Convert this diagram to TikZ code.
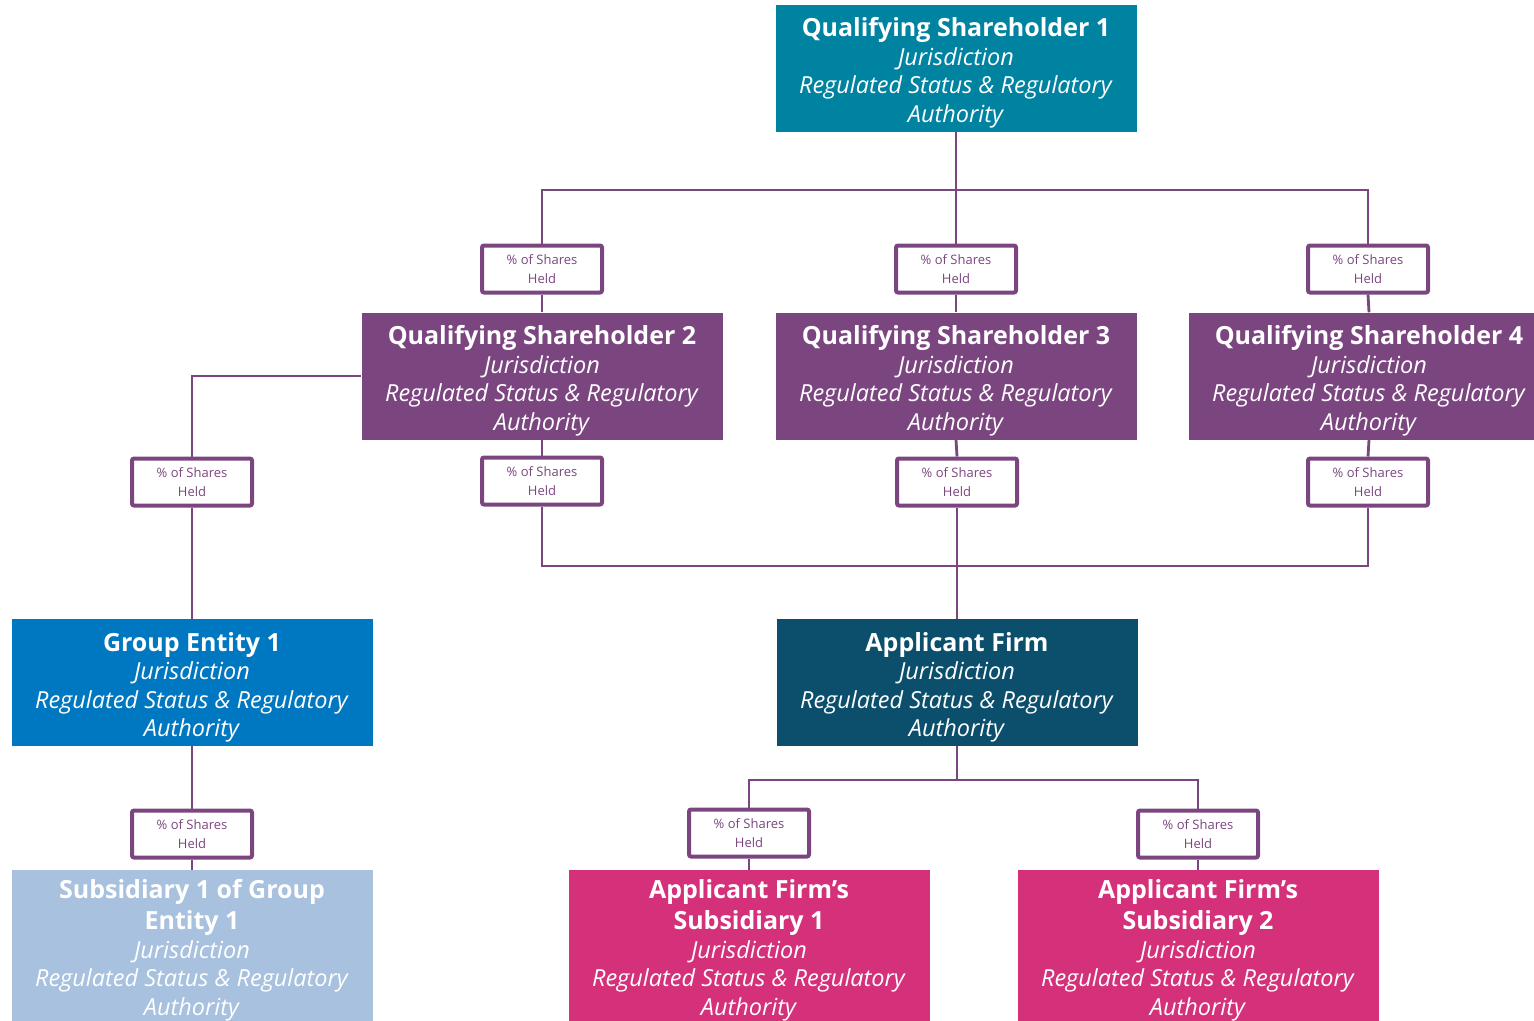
\documentclass[tikz,border=0pt]{standalone}
\usepackage{fontspec}
\setmainfont{Open Sans}

\definecolor{qsteal}{RGB}{0,131,160}
\definecolor{qspurple}{RGB}{123,70,128}
\definecolor{grpblue}{RGB}{0,120,193}
\definecolor{firmnavy}{RGB}{11,79,108}
\definecolor{subblue}{RGB}{167,193,222}
\definecolor{subpink}{RGB}{212,49,122}

\newcommand\titlefont{\fontsize{25}{29}\selectfont\bfseries}
\newcommand\entitytitle[1]{{\titlefont\rule{0pt}{29pt}#1}}
\newcommand\subtitle[1]{{\titlefont #1}}
\newcommand\entitylines{\\\textit{Jurisdiction}\\\textit{Regulated Status \& Regulatory}\\\textit{Authority}}
\newcommand\sharestext{\% of Shares\\Held}

\begin{document}
\begin{tikzpicture}[x=1pt,y=-1pt,
  entity/.style={minimum width=361pt, minimum height=127pt, inner sep=0pt, align=center, text=white, font=\fontsize{23.5}{28.5}\selectfont},
  tallentity/.style={entity, minimum height=160pt},
  sharesbox/.style={draw=qspurple, line width=4pt, fill=white, rounded corners=2pt, minimum width=120pt, minimum height=47pt, inner sep=0pt, align=center, text=qspurple, font=\fontsize{13}{19}\selectfont},
  link/.style={draw=qspurple, line width=2.8pt}]
\useasboundingbox (0,0) rectangle (1534,1020);
% bus points
\coordinate (topbus) at (956,190);
\coordinate (midbus) at (957,566);
\coordinate (lowbus) at (957,780);
% entities
\node[entity, fill=qsteal] (qs1) at (956,68) {\entitytitle{Qualifying Shareholder 1}\entitylines};
\node[entity, fill=qspurple] (qs2) at (542,376) {\entitytitle{Qualifying Shareholder 2}\entitylines};
\node[entity, fill=qspurple] (qs3) at (956,376) {\entitytitle{Qualifying Shareholder 3}\entitylines};
\node[entity, fill=qspurple] (qs4) at (1369,376) {\entitytitle{Qualifying Shareholder 4}\entitylines};
\node[entity, fill=grpblue] (ge1) at (192,682.5) {\entitytitle{Group Entity 1}\entitylines};
\node[entity, fill=firmnavy] (af) at (957,682.5) {\entitytitle{Applicant Firm}\entitylines};
\node[tallentity, fill=subblue] (sub1) at (192,950) {\subtitle{Subsidiary 1 of Group}\\[3pt]\subtitle{Entity 1}\entitylines};
\node[tallentity, fill=subpink] (afs1) at (749,950) {\subtitle{Applicant Firm’s}\\[3pt]\subtitle{Subsidiary 1}\entitylines};
\node[tallentity, fill=subpink] (afs2) at (1198,950) {\subtitle{Applicant Firm’s}\\[3pt]\subtitle{Subsidiary 2}\entitylines};
% share boxes
\node[sharesbox] (qs2s) at (542,269) {\sharestext};
\node[sharesbox] (qs3s) at (956,269) {\sharestext};
\node[sharesbox] (qs4s) at (1368,269) {\sharestext};
\node[sharesbox] (ge1s) at (192,482) {\sharestext};
\node[sharesbox] (qs2d) at (542,481) {\sharestext};
\node[sharesbox] (qs3d) at (957,482) {\sharestext};
\node[sharesbox] (qs4d) at (1368,482) {\sharestext};
\node[sharesbox] (sub1s) at (192,834) {\sharestext};
\node[sharesbox] (afs1s) at (749,833) {\sharestext};
\node[sharesbox] (afs2s) at (1198,834) {\sharestext};
% links
\draw[link] (qs1.south) -- (qs3s.north);
\draw[link] (qs2s.north) |- (topbus) -| (qs4s.north);
\draw[link] (qs2s.south) -- (qs2.north);
\draw[link] (qs3s.south) -- (qs3.north);
\draw[link] (qs4s.south) -- (qs4.north);
\draw[link] (qs2.west) -| (ge1s.north);
\draw[link] (ge1s.south) -- (ge1.north);
\draw[link] (qs2.south) -- (qs2d.north);
\draw[link] (qs3.south) -- (qs3d.north);
\draw[link] (qs4.south) -- (qs4d.north);
\draw[link] (qs2d.south) |- (midbus) -| (qs4d.south);
\draw[link] (qs3d.south) -- (af.north);
\draw[link] (ge1.south) -- (sub1s.north);
\draw[link] (sub1s.south) -- (sub1.north);
\draw[link] (af.south) -- (lowbus);
\draw[link] (afs1s.north) |- (lowbus) -| (afs2s.north);
\draw[link] (afs1s.south) -- (afs1.north);
\draw[link] (afs2s.south) -- (afs2.north);
\end{tikzpicture}
\end{document}
